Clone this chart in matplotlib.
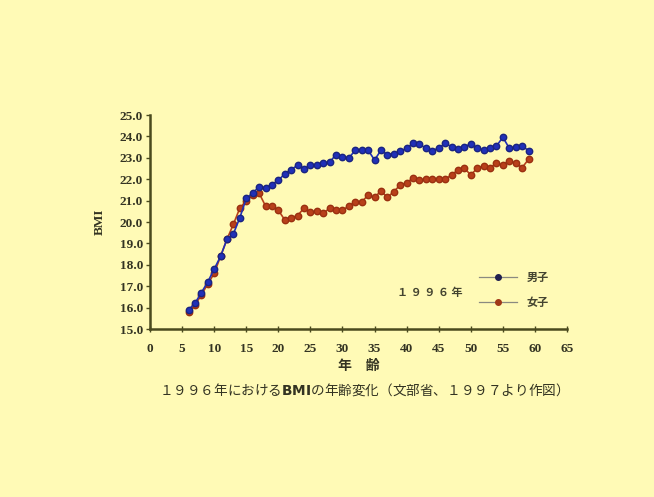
import matplotlib
matplotlib.use("Agg")
import matplotlib.pyplot as plt
from matplotlib.lines import Line2D

# Data
ages = list(range(6, 60))
male_bmi = [15.9, 16.2, 16.7, 17.2, 17.8, 18.4, 19.2, 19.45, 20.2, 21.1,
            21.35, 21.65, 21.6, 21.75, 21.95, 22.25, 22.45, 22.65, 22.5, 22.65,
            22.65, 22.75, 22.8, 23.15, 23.05, 23.0, 23.35, 23.35, 23.35, 22.9,
            23.35, 23.15, 23.2, 23.3, 23.45, 23.68, 23.63, 23.45, 23.34, 23.45,
            23.68, 23.52, 23.4, 23.52, 23.65, 23.45, 23.37, 23.45, 23.55, 23.96,
            23.45, 23.5, 23.55, 23.34]
female_bmi = [15.8, 16.1, 16.6, 17.1, 17.6, 18.4, 19.2, 19.9, 20.65, 21.0,
              21.25, 21.35, 20.75, 20.75, 20.55, 20.1, 20.2, 20.3, 20.65, 20.45,
              20.5, 20.4, 20.65, 20.55, 20.55, 20.75, 20.95, 20.95, 21.25, 21.15,
              21.45, 21.15, 21.42, 21.73, 21.84, 22.05, 21.94, 22.0, 22.0, 22.0,
              22.0, 22.2, 22.43, 22.51, 22.2, 22.51, 22.62, 22.54, 22.74, 22.67,
              22.87, 22.74, 22.54, 22.93]
x_ticks = list(range(0, 70, 5))
y_ticks = [15.0, 16.0, 17.0, 18.0, 19.0, 20.0, 21.0, 22.0, 23.0, 24.0, 25.0]

bg = "#FFFAB6"
axis_col = "#4a4a1e"
text_col = "#333322"
cjk = ["Noto Sans CJK JP", "DejaVu Sans"]

fig = plt.figure(figsize=(6.54, 4.97), dpi=100, facecolor=bg)
ax = fig.add_axes([0.2294, 0.338, 0.6376, 0.4306], facecolor=bg)

ax.plot(ages, female_bmi, color="#B8401A", marker="o", markersize=4.6,
        markeredgecolor="#9A3010", linewidth=1.2, zorder=3)
ax.plot(ages, male_bmi, color="#2030B8", marker="o", markersize=4.6,
        markeredgecolor="#1A2480", linewidth=1.2, zorder=4)

ax.set_xlim(0, 65)
ax.set_ylim(15, 25)
ax.set_xticks(x_ticks)
ax.set_yticks(y_ticks)
ax.set_xticklabels([str(t) for t in x_ticks], family="Liberation Serif",
                   fontweight="bold", fontsize=9.5, color=text_col)
ax.set_yticklabels(["%.1f" % t for t in y_ticks], family="Liberation Serif",
                   fontweight="bold", fontsize=9.5, color=text_col)
ax.tick_params(axis="both", color=axis_col, length=3, width=1)
ax.tick_params(axis="y", pad=2)
ax.tick_params(axis="x", direction="inout", length=4, pad=8)

for side in ["top", "right"]:
    ax.spines[side].set_visible(False)
for side in ["left", "bottom"]:
    ax.spines[side].set_color(axis_col)
    ax.spines[side].set_linewidth(1.8)

ax.set_ylabel("BMI", family="Liberation Serif", fontweight="bold",
              fontsize=9.5, labelpad=10, color=text_col)
ax.set_xlabel("年　齢", family=cjk, fontweight="bold", fontsize=10,
              labelpad=3, color=text_col)

# Legend
legend_elements = [
    Line2D([0], [0], color="#8a8a80", marker="o", markersize=4,
           markerfacecolor="#202050", markeredgecolor="#202050",
           linewidth=0.9, label="男子"),
    Line2D([0], [0], color="#8a8a80", marker="o", markersize=4,
           markerfacecolor="#A03818", markeredgecolor="#A03818",
           linewidth=0.9, label="女子"),
]
leg = ax.legend(handles=legend_elements, loc="lower left",
                bbox_to_anchor=(0.765, 0.047), frameon=False,
                handlelength=3.4, labelspacing=1.05, handletextpad=0.9,
                prop={"family": cjk, "weight": "bold", "size": 8})
for t in leg.get_texts():
    t.set_color("#444430")

fig.text(0.708, 0.411, "１ ９ ９ ６ 年", family=cjk, fontweight="bold",
         fontsize=8, ha="right", va="center", color="#444430")

fig.text(0.551, 0.216, "１９９６年における$\\mathbf{BMI}$の年齢変化（文部省、１９９７より作図）",
         family=cjk, fontsize=9.8, ha="center", va="center", color=text_col)

fig.savefig("out.png", dpi=100, facecolor=bg)
